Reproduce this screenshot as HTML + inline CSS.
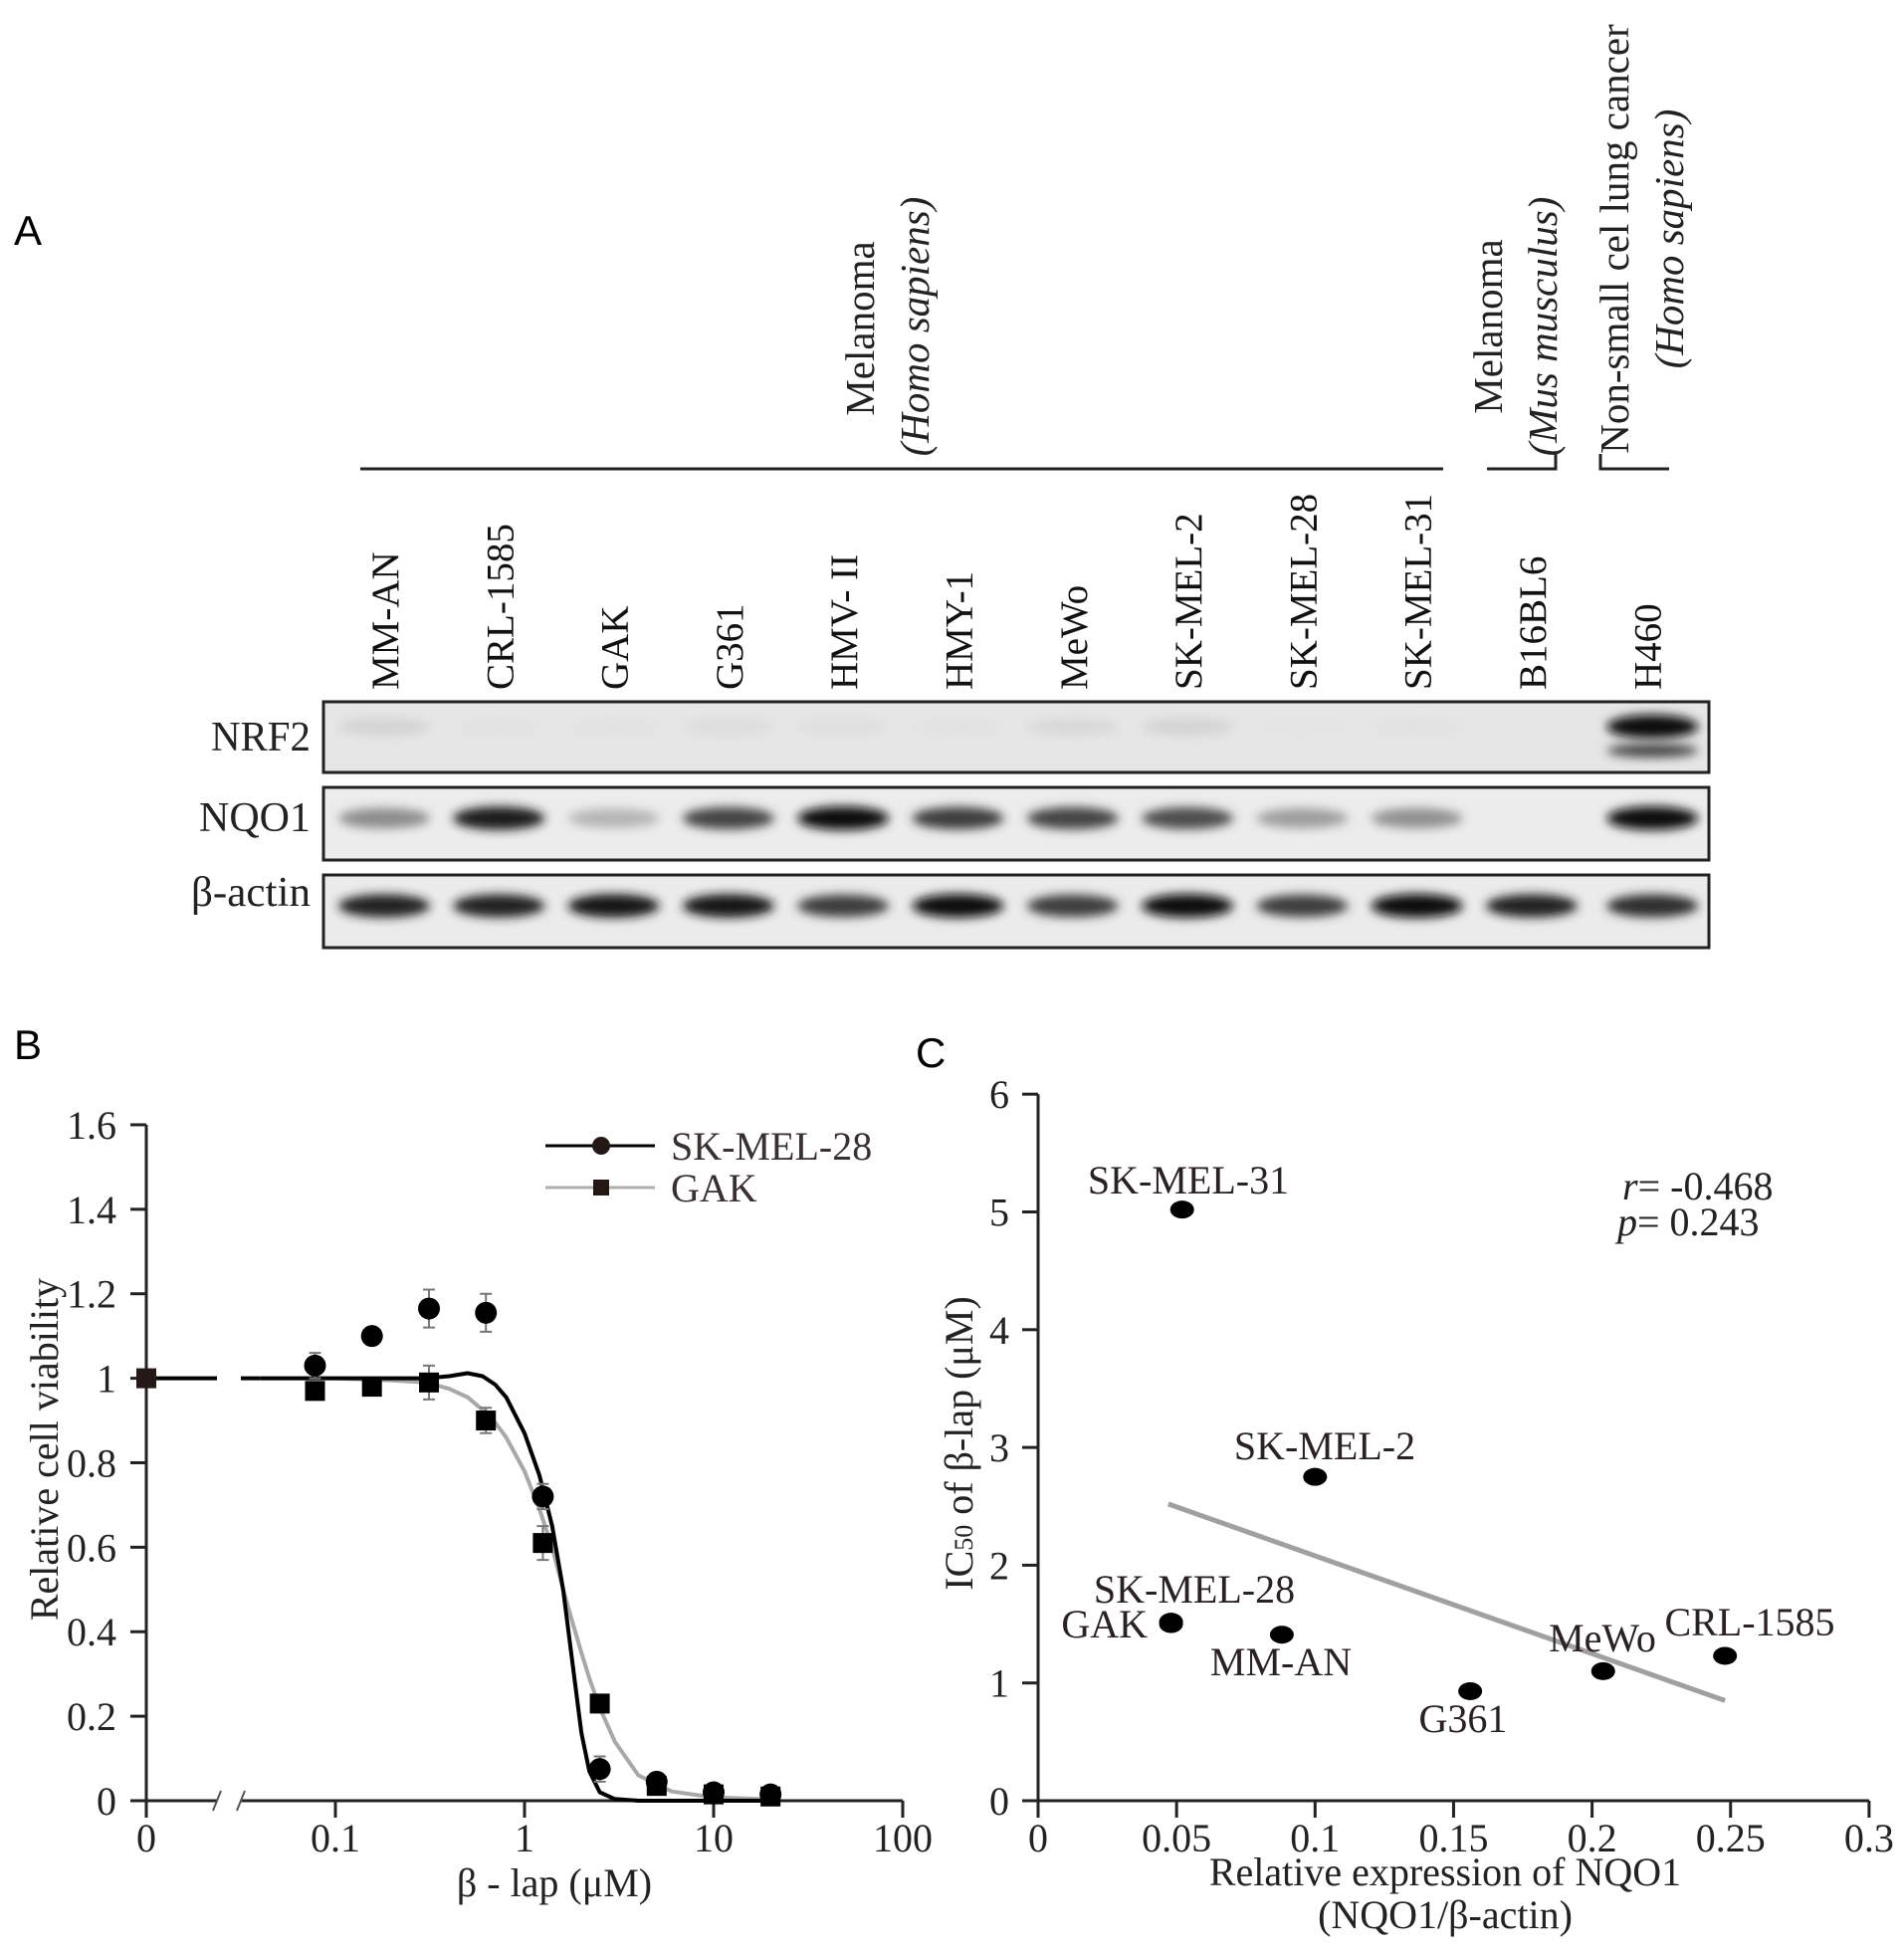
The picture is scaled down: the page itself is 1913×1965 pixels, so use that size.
<!DOCTYPE html>
<html><head><meta charset="utf-8"><style>
html,body{margin:0;padding:0;background:#fff;}
svg{display:block;font-family:"Liberation Serif",serif;}
.sans{font-family:"Liberation Sans",sans-serif;}
</style></head><body>
<svg id="fig" width="1913" height="1965" viewBox="0 0 1913 1965" xmlns="http://www.w3.org/2000/svg">
<defs>
<filter id="blur" x="-30%" y="-100%" width="160%" height="300%"><feGaussianBlur stdDeviation="5"/></filter>
</defs>
<text x="14" y="246" font-size="42" class="sans">A</text>
<text x="14" y="1064" font-size="42" class="sans">B</text>
<text x="920" y="1072" font-size="42" class="sans">C</text>
<g id="panelA"></g>
<g id="panelB"></g>
<g id="panelC"></g>
</svg>
<script>
// ---------- Panel A data ----------
const lanes = ["MM-AN","CRL-1585","GAK","G361","HMV- II","HMY-1","MeWo","SK-MEL-2","SK-MEL-28","SK-MEL-31","B16BL6","H460"];
const nrf2 = [0.08,0.02,0.02,0.04,0.03,0.02,0.06,0.08,0.01,0.02,0.0,0.95];
const nqo1 = [0.4,0.9,0.22,0.72,0.95,0.75,0.72,0.68,0.32,0.38,0.0,0.95];
const actin = [0.88,0.88,0.92,0.92,0.75,0.97,0.75,0.97,0.75,0.99,0.88,0.82];

// ---------- Panel B data ----------
const doses = [0.078,0.156,0.3125,0.625,1.25,2.5,5,10,20];
const skmel28 = [1.03,1.10,1.165,1.155,0.72,0.075,0.045,0.02,0.015];
const skmel28Err = [0.03,0.02,0.045,0.045,0.03,0.03,0.02,0.01,0.01];
const gak = [0.97,0.98,0.99,0.90,0.61,0.23,0.035,0.015,0.01];
const gakErr = [0.02,0.02,0.04,0.03,0.04,0.02,0.01,0.01,0.01];
const controlValue = [1.0];
const fitX = [0.04,0.1,0.2,0.3,0.4,0.5,0.6,0.7,0.8,1.0,1.2,1.4,1.6,1.8,2.0,2.2,2.5,3,4,6,10,20];
const fitSk28 = [1.0,1.0,1.0,1.0,1.005,1.012,1.005,0.985,0.955,0.87,0.77,0.65,0.5,0.32,0.16,0.07,0.02,0.004,0,0,0,0];
const fitGak = [1.0,1.0,0.995,0.99,0.975,0.955,0.925,0.895,0.86,0.78,0.69,0.6,0.5,0.42,0.35,0.29,0.22,0.14,0.06,0.022,0.008,0.003];
const bYTicks = [0,0.2,0.4,0.6,0.8,1,1.2,1.4,1.6];
const bXTicks = [0.1,1,10,100];

// ---------- Panel C data ----------
const cellNames = ["SK-MEL-31","SK-MEL-2","SK-MEL-28","GAK","MM-AN","G361","MeWo","CRL-1585"];
const nqo1Expr = [0.052,0.1,0.048,0.048,0.088,0.156,0.204,0.248];
const ic50 = [5.02,2.75,1.52,1.50,1.41,0.93,1.10,1.23];
const fitLineX = [0.047,0.248];
const fitLineY = [2.52,0.85];
const cYTicks = [0,1,2,3,4,5,6];
const cXTicks = [0,0.05,0.1,0.15,0.2,0.25,0.3];

const NS="http://www.w3.org/2000/svg";
function mk(tag, attrs, parent, txt){
  const e=document.createElementNS(NS,tag);
  for(const k in attrs) e.setAttribute(k,attrs[k]);
  if(txt!==undefined) e.textContent=txt;
  parent.appendChild(e); return e;
}

// ================= PANEL A =================
(function(){
  const g=document.getElementById('panelA');
  const laneX=i=>386+i*115.3;
  let l;
  l=mk('line',{x1:362,y1:471,x2:1450,y2:471,stroke:'#222','stroke-width':3},g);
  
  
  l=mk('path',{d:'M1494 471 H1563 V456',fill:'none',stroke:'#222','stroke-width':3},g);
  
  
  l=mk('path',{d:'M1608 456 V471 H1677',fill:'none',stroke:'#222','stroke-width':3},g);
  
  
  const groups=[
    {t:'Melanoma',x:864,y:330,it:false,n:'homo-melanoma-title'},
    {t:'(Homo sapiens)',x:919,y:328,it:true,n:'homo-sapiens-label'},
    {t:'Melanoma',x:1495,y:328,it:false,n:'mus-melanoma-title'},
    {t:'(Mus musculus)',x:1550,y:328,it:true,n:'mus-musculus-label'},
    {t:'Non-small cel lung cancer',x:1622,y:240,it:false,n:'nsclc-title'},
    {t:'(Homo sapiens)',x:1677,y:240,it:true,n:'nsclc-species-label'}];
  groups.forEach(o=>{
    const t=mk('text',{x:0,y:0,transform:`translate(${o.x+14},${o.y}) rotate(-90)`,'font-size':41,'text-anchor':'middle',fill:'#222','font-style':o.it?'italic':'normal'},g,o.t);
    
    
  });
  lanes.forEach((n,i)=>{
    const t=mk('text',{x:0,y:0,transform:`translate(${laneX(i)+14},693) rotate(-90)`,'font-size':39,fill:'#111'},g,n);
    
    
  });
  const rows=[{n:'NRF2',y0:705,y1:776,data:nrf2,bg:'#e6e6e6',by:730,ly:754},
              {n:'NQO1',y0:791,y1:864,data:nqo1,bg:'#ececec',by:822,ly:835},
              {n:'β-actin',y0:879,y1:952,data:actin,bg:'#ebebeb',by:910,ly:910}];
  rows.forEach((r,ri)=>{
    const lab=mk('text',{x:312,y:r.ly,'font-size':42,'text-anchor':'end',fill:'#222',textLength:r.n==='β-actin'?120:(r.n==='NRF2'?100:112),lengthAdjust:'spacingAndGlyphs'},g,r.n);
    
    
    const box=mk('rect',{x:325,y:r.y0,width:1392,height:r.y1-r.y0,fill:r.bg,stroke:'#222','stroke-width':3},g);
    
    
    r.data.forEach((v,i)=>{
      if(v<=0) return;
      const gr=Math.round(230-225*v);
      const b=mk('ellipse',{cx:laneX(i)+ (i===11?6:0),cy:r.by,rx:46,ry:ri===0?(i===11?12:9):9+3*v,fill:`rgb(${gr},${gr},${gr})`,filter:'url(#blur)'},g);
      
      
      if(ri===0 && i===11){
        const b2=mk('ellipse',{cx:laneX(i)+6,cy:r.by+24,rx:46,ry:7,fill:'rgb(70,70,70)',filter:'url(#blur)'},g);
        
        
      }
    });
  });
})();

// ================= PANEL B =================
(function(){
  const g=document.getElementById('panelB');
  const X0=147, Y0=1809, ppu=424.4;
  const y=v=>Y0-v*ppu;
  const x=v=>337+190*Math.log10(v/0.1);
  let e;
  e=mk('line',{x1:X0,y1:1130,x2:X0,y2:Y0+17,stroke:'#222','stroke-width':3},g);
   
  e=mk('path',{d:`M${X0-16} ${Y0} H218 M242 ${Y0} H907`,stroke:'#222','stroke-width':3,fill:'none'},g);
   
  e=mk('path',{d:`M214 ${Y0+10} L222 ${Y0-10} M238 ${Y0+10} L246 ${Y0-10}`,stroke:'#555','stroke-width':2,fill:'none'},g);
   
  bYTicks.forEach(v=>{
    mk('line',{x1:X0-16,y1:y(v),x2:X0,y2:y(v),stroke:'#222','stroke-width':3},g);
    const t=mk('text',{x:117,y:y(v)+14,'font-size':40,'text-anchor':'end',fill:'#222'},g,String(v));
     
  });
  const t0=mk('text',{x:X0,y:1860,'font-size':40,'text-anchor':'middle',fill:'#222'},g,'0');
   
  bXTicks.forEach(v=>{
    mk('line',{x1:x(v),y1:Y0,x2:x(v),y2:Y0+17,stroke:'#222','stroke-width':3},g);
    const t=mk('text',{x:x(v),y:1860,'font-size':40,'text-anchor':'middle',fill:'#222'},g,String(v));
     
  });
  e=mk('text',{x:0,y:0,transform:'translate(58,1456) rotate(-90)','font-size':40,'text-anchor':'middle',fill:'#222'},g,'Relative cell viability');
   
  e=mk('text',{x:557,y:1905,'font-size':40,'text-anchor':'middle',fill:'#222'},g,'β - lap (μM)');
   
  e=mk('path',{d:`M${X0} ${y(controlValue[0])} H218 M242 ${y(controlValue[0])} H${x(fitX[0])}`,stroke:'#000','stroke-width':4,fill:'none'},g);
   
  const pathOf=(xs,ys)=>xs.map((v,i)=>(i?'L':'M')+x(v).toFixed(1)+' '+y(ys[i]).toFixed(1)).join(' ');
  e=mk('path',{d:pathOf(fitX,fitGak),stroke:'#a8a8a8','stroke-width':4,fill:'none','stroke-linejoin':'round'},g);
   
  e=mk('path',{d:pathOf(fitX,fitSk28),stroke:'#000','stroke-width':4,fill:'none','stroke-linejoin':'round'},g);
   
  doses.forEach((d,i)=>{
    [[skmel28[i],skmel28Err[i]],[gak[i],gakErr[i]]].forEach(([v,er])=>{
      const eb=mk('path',{d:`M${x(d)} ${y(v-er)} V${y(v+er)} M${x(d)-6} ${y(v-er)} h12 M${x(d)-6} ${y(v+er)} h12`,stroke:'#777','stroke-width':2,fill:'none'},g);
       
    });
  });
  doses.forEach((d,i)=>{
    const s=mk('rect',{x:x(d)-10,y:y(gak[i])-10,width:20,height:20,fill:'#000'},g);
     
  });
  doses.forEach((d,i)=>{
    const c=mk('circle',{cx:x(d),cy:y(skmel28[i]),r:11,fill:'#000'},g);
     
  });
  e=mk('rect',{x:X0-10,y:y(controlValue[0])-10,width:20,height:20,fill:'#231816'},g);
   
  e=mk('line',{x1:548,y1:1151,x2:658,y2:1151,stroke:'#000','stroke-width':3},g);
   
  e=mk('circle',{cx:604,cy:1151,r:9,fill:'#231816'},g);
   
  e=mk('text',{x:674,y:1165,'font-size':40,fill:'#3a3030'},g,'SK-MEL-28');
   
  e=mk('line',{x1:548,y1:1193,x2:658,y2:1193,stroke:'#b0b0b0','stroke-width':3},g);
   
  e=mk('rect',{x:596,y:1185,width:16,height:16,fill:'#231816'},g);
   
  e=mk('text',{x:674,y:1207,'font-size':40,fill:'#3a3030'},g,'GAK');
   
})();

// ================= PANEL C =================
(function(){
  const g=document.getElementById('panelC');
  const X0=1043, Y0=1809;
  const x=v=>X0+v*2783;
  const y=v=>Y0-v*118.3;
  let e;
  e=mk('line',{x1:X0,y1:y(6),x2:X0,y2:Y0+17,stroke:'#222','stroke-width':3},g);
   
  e=mk('line',{x1:X0-16,y1:Y0,x2:x(0.3),y2:Y0,stroke:'#222','stroke-width':3},g);
   
  cYTicks.forEach(v=>{
    mk('line',{x1:X0-16,y1:y(v),x2:X0,y2:y(v),stroke:'#222','stroke-width':3},g);
    const t=mk('text',{x:1014,y:y(v)+14,'font-size':40,'text-anchor':'end',fill:'#222'},g,String(v));
     
  });
  cXTicks.forEach(v=>{
    mk('line',{x1:x(v),y1:Y0,x2:x(v),y2:Y0+17,stroke:'#222','stroke-width':3},g);
    const t=mk('text',{x:x(v),y:1860,'font-size':40,'text-anchor':'middle',fill:'#222'},g,String(v));
     
  });
  e=mk('text',{x:0,y:0,transform:'translate(977,1450) rotate(-90)','font-size':40,'text-anchor':'middle',fill:'#222'},g);
   
  e.innerHTML='IC<tspan font-size="26">50</tspan> of β-lap (μM)';
  e=mk('text',{x:1452,y:1894,'font-size':40,'text-anchor':'middle',fill:'#222'},g,'Relative expression of NQO1');
   
  e=mk('text',{x:1452,y:1937,'font-size':40,'text-anchor':'middle',fill:'#222'},g,'(NQO1/β-actin)');
   
  e=mk('line',{x1:x(fitLineX[0]),y1:y(fitLineY[0]),x2:x(fitLineX[1]),y2:y(fitLineY[1]),stroke:'#a0a0a0','stroke-width':5},g);
   
  cellNames.forEach((n,i)=>{
    const p=mk('ellipse',{cx:x(nqo1Expr[i]),cy:y(ic50[i]),rx:12,ry:9,fill:'#000'},g);
    
    
  });
  const labels=[
    ['SK-MEL-31',1194,1199,'middle'],['SK-MEL-2',1331,1466,'middle'],['SK-MEL-28',1200,1610,'middle'],
    ['GAK',1153,1645,'end'],['MM-AN',1287,1683,'middle'],['G361',1470,1740,'middle'],
    ['MeWo',1610,1659,'middle'],['CRL-1585',1758,1643,'middle']];
  labels.forEach(([t,lx,ly,a])=>{
    const tt=mk('text',{x:lx,y:ly,'font-size':40,'text-anchor':a,fill:'#2a2222'},g,t);
    
    
  });
  e=mk('text',{x:1630,y:1205,'font-size':40,fill:'#222'},g);
   
  e.innerHTML='<tspan font-style="italic">r</tspan>= -0.468';
  e=mk('text',{x:1625,y:1241,'font-size':40,fill:'#222'},g);
   
  e.innerHTML='<tspan font-style="italic">p</tspan>= 0.243';
})();
</script>
</body></html>
